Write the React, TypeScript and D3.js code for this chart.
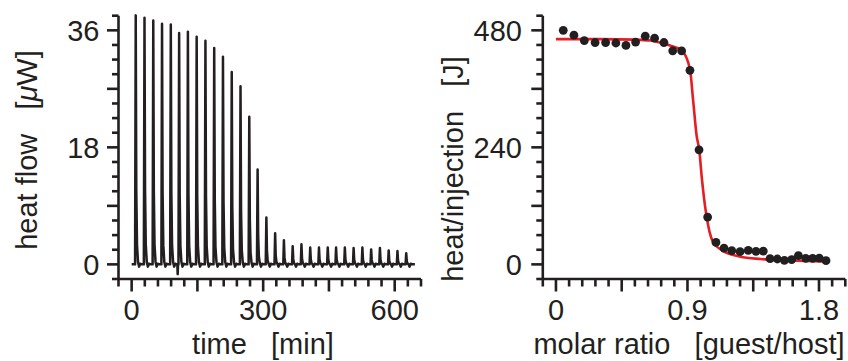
import React from "react";
import * as d3 from "d3";

// ---- Left panel: raw ITC thermogram ----
const injectionTimes = [9, 29, 49, 69, 89, 108, 128, 148, 168, 188, 208, 228, 248, 268, 287, 307, 327, 347, 367, 387, 407, 427, 447, 466, 486, 506, 526, 546, 566, 586, 606, 626];
const peakHeights = [38.3, 37.95, 37.5, 37.0, 36.9, 35.6, 35.8, 35.0, 34.4, 33.3, 31.95, 29.6, 27.4, 22.7, 14.6, 7.2, 4.8, 3.7, 2.8, 3.1, 2.6, 2.6, 2.6, 2.6, 2.6, 2.5, 2.6, 2.3, 2.5, 2.15, 2.05, 1.7];
const baselineStart = 0;
const baselineEnd = 646;
const dipTime = 105;
const dipValue = -1.5;
const leftXTickLabels = [0, 300, 600];
const leftYTickLabels = [0, 18, 36];

// ---- Right panel: integrated heats ----
const molarRatio = [0.05, 0.123, 0.194, 0.268, 0.34, 0.41, 0.479, 0.545, 0.611, 0.675, 0.739, 0.799, 0.86, 0.917, 0.979, 1.038, 1.095, 1.15, 1.203, 1.26, 1.316, 1.369, 1.419, 1.465, 1.515, 1.563, 1.613, 1.659, 1.709, 1.757, 1.802, 1.848];
const heatPerInjection = [480, 470, 459, 455, 455, 454, 449, 456, 468, 464, 455, 438, 438, 398, 235, 97, 45, 33.5, 28, 26, 28.7, 26.7, 27.3, 11.7, 11, 8.2, 9.6, 17.8, 12.3, 12.3, 13, 7.6];
const fitX = [0, 0.3, 0.55, 0.65, 0.712, 0.78, 0.86, 0.917, 0.94, 0.963, 0.981, 0.997, 1.02, 1.042, 1.077, 1.145, 1.259, 1.4, 1.55, 1.7, 1.85];
const fitY = [462, 462, 461, 459, 455, 449, 439, 400, 332, 263, 234, 181, 120, 79, 44.5, 27.3, 15.8, 11, 8.5, 7, 6];
const rightXTickLabels = ["0", "0.9", "1.8"];
const rightXTickValues = [0, 0.9, 1.8];
const rightYTickLabels = [0, 240, 480];

const INK = "#231f20";
const RED = "#e31e24";
const FONT = "'Liberation Sans', Arial, Helvetica, sans-serif";

const AX_BOTTOM = 279;
const AX_TOP = 15.7;

const lx = d3.scaleLinear().domain([-30, 660]).range([118.5, 421]);
const ly = d3.scaleLinear().domain([-2.25, 38.25]).range([AX_BOTTOM, AX_TOP]);
const rx = d3.scaleLinear().domain([-0.09, 1.98]).range([542.8, 845.3]);
const ry = d3.scaleLinear().domain([-30, 510]).range([AX_BOTTOM, AX_TOP]);

function ticksBy(start: number, end: number, step: number): number[] {
  const n = Math.round((end - start) / step);
  return d3.range(n + 1).map((i) => +(start + i * step).toFixed(6));
}
function isMultiple(v: number, m: number) {
  const r = Math.abs(v / m - Math.round(v / m));
  return r < 1e-6;
}

// peak template: [time offset (min), fraction of height, absolute offset]
const peakShape: [number, number, number][] = [
  [-1.2, 0, 0],
  [0.3, 1, 0],
  [1.6, 0.3, 0],
  [3.2, 0.08, 0],
  [5.5, 0.01, 0],
  [8, 0, -0.35],
  [10.5, 0, 0.1],
  [14, 0, 0],
];

function buildTrace(): [number, number][] {
  const pts: [number, number][] = [[baselineStart, 0]];
  injectionTimes.forEach((t, i) => {
    const h = peakHeights[i];
    peakShape.forEach(([dt, f, a]) => {
      pts.push([t + dt, f * h + a]);
    });
    if (t < dipTime && injectionTimes[i + 1] > dipTime) {
      pts.push([dipTime - 0.8, 0]);
      pts.push([dipTime, dipValue]);
      pts.push([dipTime + 0.8, 0]);
    }
  });
  pts.push([baselineEnd, 0]);
  pts.sort((a, b) => a[0] - b[0]);
  return pts;
}

function Axes({ xs, ys, xStep, xMajor, yStep, yMajor }: any) {
  const [x0, x1] = xs.domain();
  const [y0, y1] = ys.domain();
  const xt = ticksBy(x0, x1, xStep);
  const yt = ticksBy(y0, y1, yStep);
  return (
    <g stroke={INK} strokeWidth={2.6} strokeLinecap="butt">
      <line x1={xs.range()[0]} x2={xs.range()[1]} y1={AX_BOTTOM} y2={AX_BOTTOM} />
      <line x1={xs.range()[0]} x2={xs.range()[0]} y1={AX_BOTTOM} y2={AX_TOP} />
      {xt.map((v) => (
        <line key={"x" + v} x1={xs(v)} x2={xs(v)} y1={AX_BOTTOM} y2={AX_BOTTOM + (isMultiple(v, xMajor) ? 12.5 : 7.5)} />
      ))}
      {yt.map((v) => (
        <line key={"y" + v} x1={xs.range()[0]} x2={xs.range()[0] - (isMultiple(v, yMajor) ? 11.5 : 6.5)} y1={ys(v)} y2={ys(v)} />
      ))}
    </g>
  );
}

export default function App() {
  const trace = buildTrace();
  const traceLine = d3.line<[number, number]>().x((d) => lx(d[0])).y((d) => ly(d[1]));
  const fitPts: [number, number][] = fitX.map((x, i) => [x, fitY[i]]);
  const fitLine = d3
    .line<[number, number]>()
    .x((d) => rx(d[0]))
    .y((d) => ry(d[1]))
    .curve(d3.curveMonotoneX);

  const textStyle: any = { whiteSpace: "pre" };

  return (
    <svg
      width={848}
      height={361}
      style={{ position: "absolute", left: 0, top: 0, background: "#fff" }}
      fontFamily={FONT}
      fontSize={29}
    >
      <rect x={0} y={0} width={848} height={361} fill="#fff" />
      {/* Left panel */}
      <path d={traceLine(trace) || ""} fill="none" stroke={INK} strokeWidth={2.5} strokeLinejoin="round" />
      <Axes xs={lx} ys={ly} xStep={30} xMajor={150} yStep={2.25} yMajor={9} />
      {leftXTickLabels.map((v) => (
        <text key={v} x={lx(v)} y={320} textAnchor="middle" fill={INK}>
          {v}
        </text>
      ))}
      {leftYTickLabels.map((v) => (
        <text key={v} x={99.5} y={ly(v) + 10.4} textAnchor="end" fill={INK}>
          {v}
        </text>
      ))}
      <text x={263} y={354} textAnchor="middle" fill={INK} style={textStyle}>
        {"time   [min]"}
      </text>
      <text transform="translate(37,150) rotate(-90)" textAnchor="middle" fill={INK} style={textStyle}>
        {"heat flow   ["}
        <tspan fontStyle="italic">{"\u03bc"}</tspan>
        {"W]"}
      </text>

      {/* Right panel */}
      <path d={fitLine(fitPts) || ""} fill="none" stroke={RED} strokeWidth={2.6} />
      {molarRatio.map((x, i) => (
        <circle key={i} cx={rx(x)} cy={ry(heatPerInjection[i])} r={4.4} fill={INK} />
      ))}
      <Axes xs={rx} ys={ry} xStep={0.09} xMajor={0.45} yStep={30} yMajor={120} />
      {rightXTickValues.map((v, i) => (
        <text key={v} x={rx(v)} y={320} textAnchor="middle" fill={INK}>
          {rightXTickLabels[i]}
        </text>
      ))}
      {rightYTickLabels.map((v) => (
        <text key={v} x={522} y={ry(v) + 10.4} textAnchor="end" fill={INK}>
          {v}
        </text>
      ))}
      <text x={689} y={354} textAnchor="middle" fill={INK} style={textStyle}>
        {"molar ratio   [guest/host]"}
      </text>
      <text transform="translate(463,169) rotate(-90)" textAnchor="middle" fill={INK} style={textStyle}>
        {"heat/injection   [J]"}
      </text>
    </svg>
  );
}
